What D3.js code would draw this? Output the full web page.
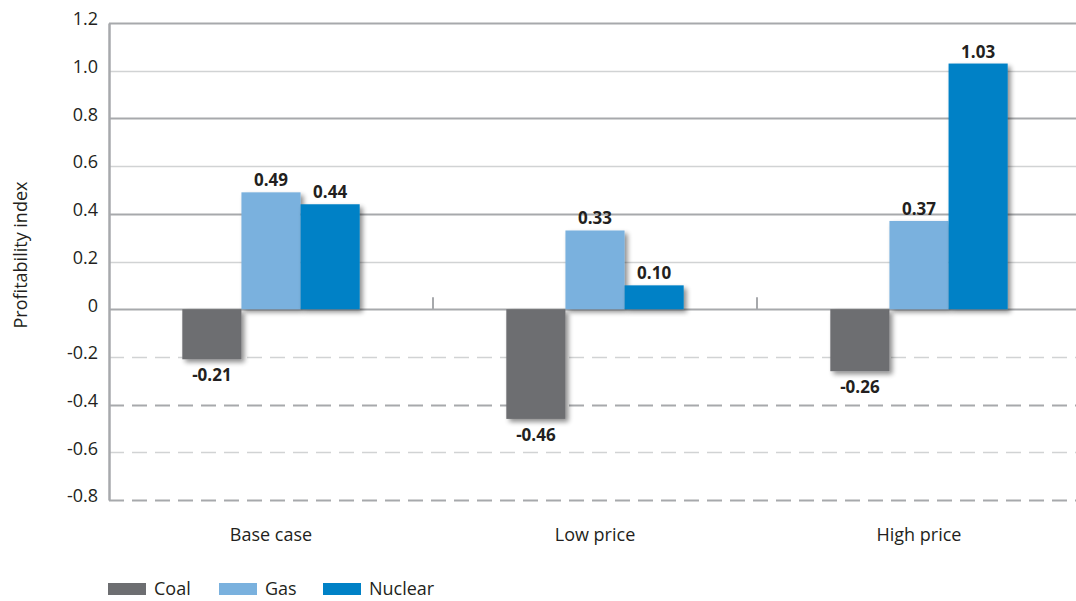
<!DOCTYPE html>
<html>
<head>
<meta charset="utf-8">
<script src="https://cdn.jsdelivr.net/npm/d3@7"></script>
<style>
  body { margin: 0; background: #fff; }
  svg { font-family: "Open Sans", "Noto Sans", sans-serif; }
  .tick-label { font-size: 18px; fill: #231f20; }
  .val-label { font-size: 17px; font-weight: bold; fill: #231f20; }
</style>
</head>
<body>
<svg id="chart" width="1076" height="601"></svg>
<script>
// chart data
const scenarios = ['Base case', 'Low price', 'High price'];
const fuels = ['Coal', 'Gas', 'Nuclear'];
const coalValues = [-0.21, -0.46, -0.26];
const gasValues = [0.49, 0.33, 0.37];
const nuclearValues = [0.44, 0.10, 1.03];
const yTicks = [1.2, 1.0, 0.8, 0.6, 0.4, 0.2, 0, -0.2, -0.4, -0.6, -0.8];
const fuelColors = ['#6d6e71', '#7ab1de', '#0081c6'];

const seriesValues = [coalValues, gasValues, nuclearValues];
const data = [];
scenarios.forEach((s, i) => {
    fuels.forEach((f, j) => data.push({scenario: s, fuel: f, value: seriesValues[j][i]}));
});

// plain hyphen for negatives, like the original
const fmt = p => d => d.toFixed(p).replace('\u2212', '-');

const margin = {top: 23, right: -5, bottom: 101, left: 109};
const width = 1076 - margin.left - margin.right;
const height = 601 - margin.top - margin.bottom;

const svg = d3.select('#chart');

// drop shadow for bars
const defs = svg.append('defs');
const shadow = defs.append('filter').attr('id', 'shadow')
    .attr('x', '-20%').attr('y', '-20%').attr('width', '150%').attr('height', '150%');
shadow.append('feGaussianBlur').attr('in', 'SourceAlpha').attr('stdDeviation', 2.5);
shadow.append('feOffset').attr('dx', 3).attr('dy', 3).attr('result', 'blur');
shadow.append('feComponentTransfer').append('feFuncA').attr('type', 'linear').attr('slope', 0.45);
const merge = shadow.append('feMerge');
merge.append('feMergeNode');
merge.append('feMergeNode').attr('in', 'SourceGraphic');

const chart = svg.append('g').attr('transform', `translate(${margin.left},${margin.top})`);

const y = d3.scaleLinear().domain([-0.8, 1.2]).range([height, 0]);
const x0 = d3.scaleBand().domain(scenarios).range([0, width]);
const x1 = d3.scaleBand().domain(fuels).range([0, x0.bandwidth()]).paddingOuter(1.24).paddingInner(0);

// gridlines: alternate light / darker, dashed below zero
chart.selectAll('.grid')
    .data(yTicks)
  .join('line')
    .attr('class', 'grid')
    .attr('x1', 0).attr('x2', width)
    .attr('y1', d => Math.round(y(d)) + 0.5).attr('y2', d => Math.round(y(d)) + 0.5)
    .attr('stroke', (d, i) => i % 2 === 0 ? '#a7a9ac' : '#d1d3d4')
    .attr('stroke-width', (d, i) => i % 2 === 0 ? 2 : 1.6)
    .attr('stroke-dasharray', d => d < 0 ? '15,8' : null);

// category separator ticks on zero line
chart.selectAll('.sep')
    .data(scenarios.slice(1))
  .join('line')
    .attr('class', 'sep')
    .attr('x1', d => x0(d)).attr('x2', d => x0(d))
    .attr('y1', y(0) - 12).attr('y2', y(0))
    .attr('stroke', '#a7a9ac').attr('stroke-width', 2);

// y axis
const yAxis = d3.axisLeft(y).tickValues(yTicks).tickSize(0).tickPadding(11)
    .tickFormat(d => d === 0 ? '0' : fmt(1)(d));
chart.append('g').call(yAxis)
    .call(g => g.select('.domain').attr('stroke', '#a7a9ac').attr('stroke-width', 2.5))
    .call(g => g.selectAll('text').attr('class', 'tick-label').attr('dy', '0.1em')
        .style('font-family', '"Open Sans", sans-serif').style('font-size', '18px'));

// bars
const groups = chart.selectAll('.group')
    .data(scenarios)
  .join('g')
    .attr('class', 'group')
    .attr('transform', d => `translate(${x0(d)},0)`);

groups.selectAll('rect')
    .data(s => data.filter(d => d.scenario === s))
  .join('rect')
    .attr('x', d => x1(d.fuel))
    .attr('width', x1.bandwidth())
    .attr('y', d => y(Math.max(0, d.value)))
    .attr('height', d => Math.abs(y(d.value) - y(0)))
    .attr('fill', d => fuelColors[fuels.indexOf(d.fuel)])
    .attr('filter', 'url(#shadow)');

groups.selectAll('.val-label')
    .data(s => data.filter(d => d.scenario === s))
  .join('text')
    .attr('class', 'val-label')
    .attr('x', d => x1(d.fuel) + x1.bandwidth() / 2)
    .attr('y', d => d.value >= 0 ? y(d.value) - 6 : y(d.value) + 22)
    .attr('text-anchor', 'middle')
    .text(d => fmt(2)(d.value));

// x category labels
chart.selectAll('.cat-label')
    .data(scenarios)
  .join('text')
    .attr('class', 'tick-label')
    .attr('x', d => x0(d) + x0.bandwidth() / 2)
    .attr('y', height + 41)
    .attr('text-anchor', 'middle')
    .text(d => d);

// y axis title
svg.append('text')
    .attr('class', 'tick-label')
    .attr('transform', 'translate(27,255) rotate(-90)')
    .attr('text-anchor', 'middle')
    .style('font-size', '18px')
    .text('Profitability index');

// legend
const legendX = [108, 219, 323];
const legend = svg.selectAll('.legend')
    .data(fuels)
  .join('g')
    .attr('class', 'legend')
    .attr('transform', (d, i) => `translate(${legendX[i]},583)`);
legend.append('rect')
    .attr('width', 38).attr('height', 12)
    .attr('fill', (d, i) => fuelColors[i]);
legend.append('text')
    .attr('class', 'tick-label')
    .attr('x', 46).attr('y', 12)
    .style('font-size', '18px')
    .text(d => d);
</script>
</body>
</html>
